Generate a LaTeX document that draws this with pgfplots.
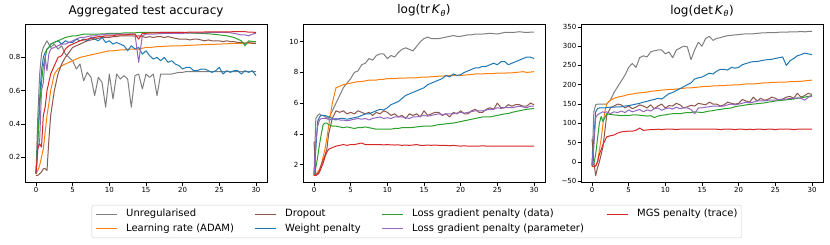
\documentclass[border=0pt]{standalone}
\usepackage{fontspec}
\setmainfont{DejaVu Sans}
\usepackage{pgfplots}
\pgfplotsset{compat=1.18}
\usepackage{pgfplotstable}

\definecolor{cU}{HTML}{7F7F7F}
\definecolor{cA}{HTML}{FF7F0E}
\definecolor{cD}{HTML}{8C564B}
\definecolor{cW}{HTML}{1F77B4}
\definecolor{cG}{HTML}{2CA02C}
\definecolor{cP}{HTML}{9467BD}
\definecolor{cM}{HTML}{D62728}

\pgfplotstableread{
x U A D W G P M
0 .10 .10 .09 .10 .10 .10 .10
0.25 .45 .12 .09 .30 .30 .25 .25
0.5 .70 .15 .10 .55 .50 .30 .28
0.75 .82 .20 .11 .72 .65 .60 .26
1 .86 .25 .13 .80 .75 .65 .45
1.25 .88 .35 .13 .83 .80 .80 .50
1.5 .90 .45 .12 .85 .85 .72 .60
1.75 .88 .52 .30 .86 .86 .82 .65
2 .86 .60 .45 .88 .88 .85 .70
2.5 .88 .70 .60 .89 .89 .86 .75
3 .85 .73 .70 .90 .90 .87 .80
3.5 .87 .75 .76 .88 .91 .88 .81
4 .82 .76 .80 .90 .92 .88 .85
4.5 .80 .77 .83 .89 .925 .89 .87
5 .78 .78 .86 .89 .93 .90 .88
5.5 .73 .79 .87 .91 .93 .91 .89
6 .76 .80 .88 .90 .935 .92 .90
6.5 .66 .805 .89 .91 .94 .92 .905
7 .71 .81 .90 .90 .94 .925 .91
7.5 .68 .815 .905 .92 .94 .93 .915
8 .57 .82 .91 .91 .94 .93 .92
8.5 .68 .825 .915 .90 .94 .935 .925
9 .65 .83 .92 .92 .942 .935 .925
9.5 .50 .835 .92 .89 .942 .94 .93
10 .70 .84 .92 .90 .945 .94 .93
10.5 .55 .84 .925 .88 .945 .94 .93
11 .70 .842 .925 .89 .945 .94 .935
11.5 .67 .845 .93 .88 .945 .94 .935
12 .69 .845 .93 .87 .947 .94 .935
12.5 .67 .85 .93 .84 .947 .94 .937
13 .50 .85 .93 .87 .948 .94 .94
13.5 .69 .85 .928 .85 .948 .94 .94
14 .70 .85 .93 .86 .95 .77 .91
14.5 .61 .855 .925 .82 .95 .93 .945
15 .70 .86 .92 .84 .95 .94 .945
15.5 .68 .86 .925 .81 .95 .94 .947
16 .70 .862 .92 .79 .95 .94 .948
16.5 .57 .865 .925 .80 .95 .942 .948
17 .70 .865 .925 .78 .95 .943 .95
17.5 .70 .867 .92 .80 .95 .944 .95
18 .70 .868 .925 .77 .95 .945 .95
18.5 .70 .87 .92 .78 .95 .945 .95
19 .705 .87 .915 .76 .95 .945 .95
19.5 .71 .87 .91 .75 .95 .945 .95
20 .71 .87 .91 .73 .95 .945 .951
20.5 .715 .872 .91 .74 .948 .946 .951
21 .715 .873 .905 .74 .947 .947 .952
21.5 .715 .874 .91 .72 .946 .947 .952
22 .715 .875 .91 .72 .945 .948 .952
22.5 .715 .876 .905 .73 .944 .948 .952
23 .715 .877 .90 .73 .943 .948 .953
23.5 .715 .878 .905 .72 .942 .949 .953
24 .715 .878 .90 .71 .94 .95 .953
24.5 .715 .879 .90 .72 .938 .95 .953
25 .715 .88 .90 .74 .935 .95 .953
25.5 .715 .881 .895 .70 .933 .95 .954
26 .715 .882 .90 .72 .93 .95 .954
26.5 .715 .883 .895 .71 .925 .948 .954
27 .715 .884 .895 .72 .92 .945 .955
27.5 .715 .885 .89 .72 .91 .94 .955
28 .715 .885 .89 .70 .90 .935 .955
28.5 .715 .886 .885 .72 .87 .935 .955
29 .715 .886 .89 .71 .90 .93 .952
29.5 .715 .886 .885 .72 .895 .94 .952
30 .715 .886 .885 .69 .895 .945 .95
}\accdata

\pgfplotstableread{
x U A D W G P M
0 1.3 1.3 3.5 1.3 1.3 1.3 1.3
0.25 5.0 1.35 1.3 3.0 1.8 3.5 1.3
0.5 5.2 1.5 1.4 4.8 2.5 4.5 1.35
0.75 5.3 1.7 1.6 5.1 3.3 4.9 1.5
1 5.2 2.0 2.0 5.2 4.0 5.0 1.8
1.25 5.2 2.5 2.3 5.2 4.6 5.0 2.1
1.5 5.1 3.0 2.6 5.2 4.7 5.0 2.5
1.75 5.05 3.7 3.0 5.15 4.7 5.0 2.8
2 5.0 4.5 4.0 5.1 4.6 4.9 3.0
2.5 5.5 6.0 5.0 5.0 4.5 4.95 3.1
3 6.0 7.0 5.5 4.9 4.5 5.0 3.2
3.5 6.5 7.1 5.4 5.0 4.45 4.9 3.25
4 7.0 7.2 5.5 5.0 4.4 4.9 3.3
4.5 7.3 7.25 5.3 4.95 4.45 4.85 3.25
5 7.6 7.3 5.4 5.0 4.4 4.9 3.3
5.5 8.0 7.35 5.3 5.05 4.35 4.95 3.3
6 8.1 7.4 5.5 5.1 4.4 5.0 3.35
6.5 8.5 7.4 5.4 5.2 4.4 4.95 3.4
7 8.6 7.45 5.3 5.3 4.45 5.0 3.3
7.5 8.9 7.5 5.4 5.3 4.4 4.9 3.3
8 8.8 7.5 5.2 5.4 4.35 5.0 3.3
8.5 9.1 7.5 5.4 5.5 4.3 5.05 3.3
9 9.2 7.55 5.3 5.6 4.3 5.1 3.3
9.5 9.2 7.55 5.5 5.55 4.3 5.0 3.28
10 8.9 7.6 5.4 5.7 4.3 5.05 3.3
10.5 9.1 7.6 5.2 5.9 4.3 5.0 3.28
11 9.0 7.6 5.3 6.0 4.35 5.1 3.27
11.5 9.3 7.62 5.1 6.1 4.35 5.1 3.28
12 9.5 7.62 5.2 6.3 4.4 5.1 3.25
12.5 9.6 7.63 5.0 6.5 4.4 5.05 3.27
13 9.5 7.65 5.3 6.6 4.4 5.0 3.25
13.5 9.4 7.65 5.2 6.7 4.42 5.1 3.27
14 9.7 7.65 5.3 6.8 4.45 5.1 3.3
14.5 10.0 7.68 5.1 6.9 4.48 5.15 3.25
15 10.2 7.7 5.5 7.0 4.5 5.2 3.25
15.5 10.3 7.7 5.2 7.2 4.5 5.15 3.27
16 10.2 7.72 5.3 7.3 4.5 5.2 3.25
16.5 10.2 7.74 5.4 7.4 4.55 5.25 3.27
17 10.2 7.75 5.4 7.5 4.6 5.3 3.25
17.5 10.25 7.76 5.2 7.6 4.62 5.25 3.25
18 10.3 7.78 5.3 7.8 4.65 5.3 3.25
18.5 10.35 7.8 5.1 7.7 4.68 5.3 3.22
19 10.4 7.8 5.4 7.9 4.7 5.3 3.25
19.5 10.35 7.8 5.3 7.8 4.75 5.35 3.22
20 10.35 7.8 5.5 7.85 4.8 5.4 3.2
20.5 10.4 7.82 5.3 8.0 4.85 5.35 3.22
21 10.45 7.85 5.3 8.1 4.9 5.4 3.2
21.5 10.45 7.87 5.5 8.2 4.95 5.45 3.2
22 10.5 7.9 5.6 8.3 5.0 5.5 3.2
22.5 10.5 7.9 5.4 8.3 5.05 5.5 3.2
23 10.5 7.9 5.4 8.4 5.1 5.5 3.22
23.5 10.52 7.92 5.6 8.4 5.1 5.55 3.2
24 10.55 7.92 5.7 8.5 5.1 5.6 3.2
24.5 10.52 7.93 5.6 8.6 5.15 5.6 3.2
25 10.5 7.95 6.0 8.5 5.2 5.7 3.2
25.5 10.55 7.95 5.7 8.7 5.25 5.65 3.2
26 10.6 7.95 5.7 8.7 5.3 5.7 3.2
26.5 10.6 7.97 5.9 8.5 5.32 5.7 3.2
27 10.6 7.97 5.8 8.6 5.4 5.7 3.2
27.5 10.62 8.0 5.9 8.7 5.45 5.75 3.2
28 10.65 8.02 5.9 8.8 5.5 5.8 3.2
28.5 10.62 8.05 5.8 8.9 5.55 5.75 3.2
29 10.6 8.0 5.8 9.0 5.6 5.7 3.2
29.5 10.62 8.02 6.0 9.0 5.62 5.8 3.2
30 10.62 8.05 5.9 8.9 5.65 5.8 3.2
}\trdata

\pgfplotstableread{
x U A D W G P M
0 -8 -10 60 -10 -10 -10 -10
0.25 130 -12 0 60 -5 40 -12
0.5 148 -10 -35 130 20 115 -10
0.75 150 0 -15 138 60 122 0
1 150 30 0 140 100 125 20
1.25 150 60 20 140 118 128 32
1.5 150 100 40 140 105 130 45
1.75 150 130 80 140 115 128 55
2 150 150 120 141 125 130 65
2.5 160 160 140 142 123 125 68
3 180 165 145 142 122 130 70
3.5 195 168 150 143 121 128 75
4 210 170 148 143 120 132 78
4.5 225 172 140 145 121 128 79
5 245 175 145 146 120 135 80
5.5 255 176 138 148 122 130 80
6 245 178 142 150 122 133 82
6.5 270 179 148 152 121 136 88
7 275 180 145 155 120 130 82
7.5 272 181 140 157 119 135 83
8 285 183 148 160 120 132 84
8.5 288 184 138 162 115 138 84
9 290 185 145 165 119 140 85
9.5 290 186 150 163 121 134 84
10 280 187 140 170 122 138 85
10.5 285 188 146 177 124 140 85
11 270 188 145 180 125 137 85
11.5 290 189 152 185 125 142 84
12 295 190 148 190 125 138 85
12.5 300 191 140 195 127 140 85
13 298 192 143 200 128 140 85
13.5 265 192 147 205 128 136 85
14 290 193 145 215 130 125 85
14.5 310 194 152 218 129 140 85
15 300 195 150 220 128 140 85
15.5 320 196 148 225 130 142 85
16 325 196 155 230 132 143 85
16.5 315 197 150 228 133 145 85
17 320 197 150 235 135 145 85
17.5 322 198 145 240 136 144 84
18 325 198 148 240 138 145 85
18.5 327 199 155 238 139 148 85
19 328 199 152 245 140 150 85
19.5 329 200 150 243 143 148 84
20 330 200 152 245 145 150 85
20.5 331 201 162 252 146 152 85
21 332 202 158 255 148 155 84
21.5 332 202 155 258 149 153 85
22 332 202 168 260 150 155 84
22.5 333 203 158 260 151 158 85
23 334 204 165 262 152 158 85
23.5 334 205 160 264 153 158 84
24 335 205 162 265 155 160 85
24.5 335 206 168 266 156 160 85
25 335 206 165 268 158 160 84
25.5 336 207 160 270 159 162 85
26 336 207 163 272 160 162 85
26.5 336 207 168 250 161 163 85
27 337 208 170 262 162 165 85
27.5 337 208 165 268 163 165 84
28 337 209 178 275 165 166 85
28.5 338 209 168 278 166 165 85
29 337 210 172 282 168 160 85
29.5 338 211 178 280 170 168 85
30 338 212 175 278 172 170 85
}\detdata

\pgfplotsset{
  every axis title shift=0pt,
  panel/.style={
    scale only axis, width=242pt, height=158pt, anchor=south west,
    xmin=-1.5, xmax=31.5,
    xtick={0,5,10,15,20,25,30}, xticklabels={0,5,10,15,20,25,30},
    tick pos=left, tick align=outside, major tick length=3.5pt,
    tick style={black, line width=0.6pt},
    axis line style={line width=0.6pt},
    ticklabel style={font=\fontsize{7}{8}\selectfont},
    xticklabel style={inner sep=1.5pt},
    yticklabel style={inner sep=1pt},
    title style={font=\fontsize{12}{14}\selectfont, at={(0.5,1)}, anchor=base, yshift=10.5pt},
    every axis plot/.append style={line width=1.0pt, line join=round},
  },
}

\newcommand{\sevenplots}[1]{%
  \addplot[cU, forget plot] table[x=x,y=U] {#1};
  \addplot[cA, forget plot] table[x=x,y=A] {#1};
  \addplot[cD, forget plot] table[x=x,y=D] {#1};
  \addplot[cW, forget plot] table[x=x,y=W] {#1};
  \addplot[cG, forget plot] table[x=x,y=G] {#1};
  \addplot[cP, forget plot] table[x=x,y=P] {#1};
  \addplot[cM, forget plot] table[x=x,y=M] {#1};
}

\begin{document}
\begin{tikzpicture}
\useasboundingbox (0pt,0pt) rectangle (830pt,244pt);

\begin{axis}[panel, at={(25pt,61.5pt)},
  ymin=0.047, ymax=0.998,
  ytick={0.2,0.4,0.6,0.8}, yticklabels={0.2,0.4,0.6,0.8},
  title={Aggregated test accuracy},
  legend columns=4,
  legend cell align=left,
  legend image code/.code={\draw[#1] (0pt,0pt) -- (21pt,0pt);},
  legend style={at={(0.2756,-0.1424)}, anchor=north west,
    font=\fontsize{10}{12}\selectfont,
    draw=black!20, rounded corners=2pt, fill=white,
    inner xsep=3.3pt, inner ysep=4pt,
    nodes={inner sep=0pt, text height=7.5pt, text depth=2.5pt},
    row sep=4.7pt,
    /tikz/every odd column/.append style={column sep=9pt},
    /tikz/every even column/.append style={column sep=20pt}},
]
\sevenplots{\accdata}
\addlegendimage{cU, line width=1.0pt}\addlegendentry{\makebox[108pt][l]{Unregularised}}
\addlegendimage{cD, line width=1.0pt}\addlegendentry{\makebox[76pt][l]{Dropout}}
\addlegendimage{cG, line width=1.0pt}\addlegendentry{\makebox[174pt][l]{Loss gradient penalty (data)}}
\addlegendimage{cM, line width=1.0pt}\addlegendentry{\makebox[101pt][l]{MGS penalty (trace)}}
\addlegendimage{cA, line width=1.0pt}\addlegendentry{\makebox[108pt][l]{Learning rate (ADAM)}}
\addlegendimage{cW, line width=1.0pt}\addlegendentry{\makebox[76pt][l]{Weight penalty}}
\addlegendimage{cP, line width=1.0pt}\addlegendentry{\makebox[174pt][l]{Loss gradient penalty (parameter)}}
\end{axis}

\begin{axis}[panel, at={(303pt,61.5pt)},
  ymin=0.83, ymax=11.12,
  ytick={2,4,6,8,10}, yticklabels={2,4,6,8,10},
  title={log(tr\,\textit{K}\textsubscript{\textit{θ}})},
]
\sevenplots{\trdata}
\end{axis}

\begin{axis}[panel, at={(581pt,61.5pt)},
  ymin=-53, ymax=356,
  ytick={-50,0,50,100,150,200,250,300,350},
  yticklabels={−50,0,50,100,150,200,250,300,350},
  title={log(det\,\textit{K}\textsubscript{\textit{θ}})},
]
\sevenplots{\detdata}
\end{axis}
\end{tikzpicture}
\end{document}
